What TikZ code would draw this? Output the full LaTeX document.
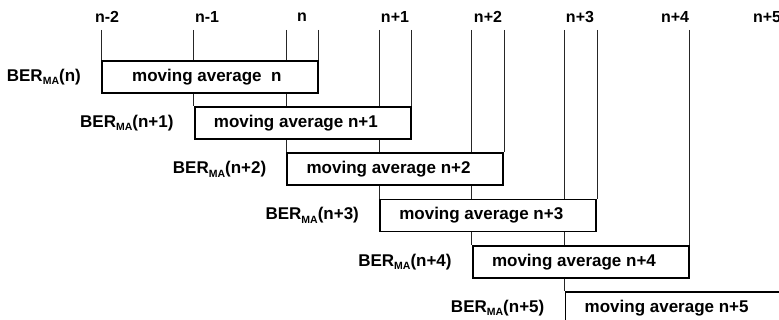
\documentclass[tikz,border=0pt]{standalone}
\usepackage{fontspec}
\setmainfont{Liberation Sans}
\pgfdeclarelayer{bg}
\pgfsetlayers{bg,main}
\begin{document}
\begin{tikzpicture}[x=1pt,y=-1pt,
  avgbox/.style={draw=black, line width=1.8pt, fill=white,
    minimum width=216pt, minimum height=32pt, inner sep=0pt, anchor=north west},
  avgtext/.style={font=\bfseries\fontsize{17}{17}\selectfont, inner sep=0pt, anchor=west},
  berlabel/.style={font=\bfseries\fontsize{17}{17}\selectfont, inner sep=0pt, anchor=east},
  ticklabel/.style={font=\bfseries\fontsize{16}{16}\selectfont, inner sep=0pt},
  gridline/.style={line width=0.8pt, black!85}]
\useasboundingbox (0,0) rectangle (779,320);
\newcommand{\bermaidx}[1]{BER\raisebox{-3.5pt}{\fontsize{10.5}{10.5}\selectfont MA}(#1)}

% sample-index labels along the top
\foreach \i/\x/\t in {0/107/n-2, 1/207/n-1, 2/302/n, 3/395/n+1,
                      4/488/n+2, 5/580/n+3, 6/675/n+4, 7/767/n+5}
  \node[ticklabel] (tl\i) at (\x,17) {\t};
\coordinate (top) at (0,30);

% one window per moving average
\foreach \k/\suf in {0/n, 1/n+1, 2/n+2, 3/n+3, 4/n+4, 5/n+5} {
  \node[avgbox] (b\k) at ({101+92.7*\k},{60+46.2*\k}) {};
  \node[berlabel] (l\k) at ([xshift=-20pt]b\k.west) {\bermaidx{\suf}};
}
\node[avgtext] (t0) at ([xshift=31pt]b0.west) {moving average\ \ n};
\foreach \k/\suf in {1/n+1, 2/n+2, 3/n+3, 4/n+4, 5/n+5}
  \node[avgtext] (t\k) at ([xshift=20pt]b\k.west) {moving average \suf};

% window borders extended up to the index axis, behind the boxes
\begin{pgfonlayer}{bg}
  \foreach \k in {0,...,5} {
    \draw[gridline] (b\k.north west |- top) -- (b\k.north west);
    \draw[gridline] (b\k.north east |- top) -- (b\k.north east);
  }
\end{pgfonlayer}
\end{tikzpicture}
\end{document}
